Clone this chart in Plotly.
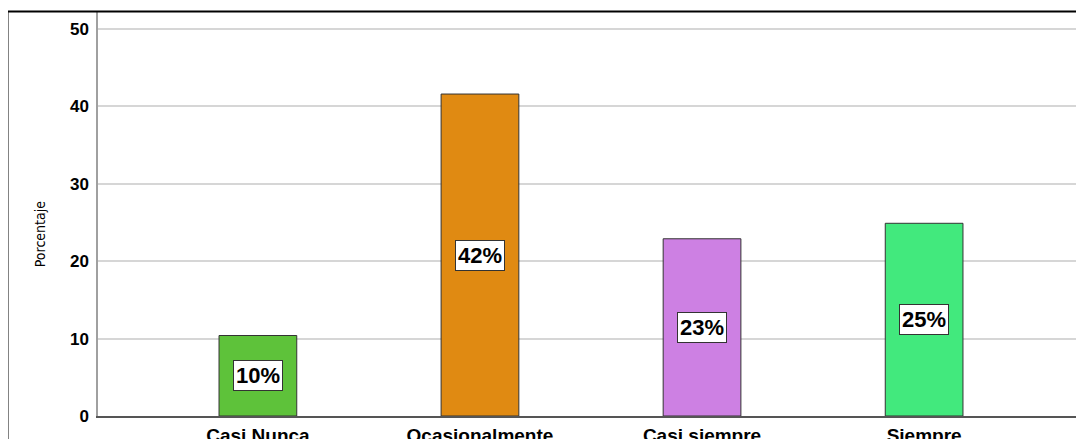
import plotly.graph_objects as go

categories = ["Casi Nunca", "Ocasionalmente", "Casi siempre", "Siempre"]
values = [10.4, 41.6, 22.9, 24.9]
labels = ["10%", "42%", "23%", "25%"]
colors = ["#5ec23a", "#e08a12", "#cd80e3", "#42e97d"]

fig = go.Figure()
fig.add_trace(go.Bar(
    x=categories, y=values, width=0.35,
    marker=dict(color=colors, line=dict(color="#333333", width=1)),
    hoverinfo="skip", showlegend=False,
))

for c, v, t in zip(categories, values, labels):
    fig.add_annotation(
        x=c, y=v / 2, text=t, showarrow=False,
        font=dict(family="Liberation Sans", size=22, color="black", weight="bold"),
        bgcolor="white", bordercolor="#333333", borderwidth=1, borderpad=2,
    )

fig.add_annotation(
    x=-0.0588, y=0.45, xref="paper", yref="paper", text="Porcentaje",
    textangle=-90, showarrow=False, xanchor="center", yanchor="middle",
    font=dict(family="Liberation Sans Narrow, DejaVu Sans Condensed, Liberation Sans",
              size=14, color="black"),
)

fig.add_shape(type="rect", xref="paper", yref="paper",
              x0=-0.0918, x1=1.05, y0=-0.3, y1=1.001,
              line=dict(color="black", width=2), layer="above")

fig.update_layout(
    width=1076, height=431,
    margin=dict(l=90, r=0, t=4, b=23, autoexpand=False),
    paper_bgcolor="white", plot_bgcolor="white",
    xaxis=dict(
        range=[-0.72, 3.72], showgrid=False, showline=True, automargin=False,
        linecolor="#555555", linewidth=1.5, ticks="", ticklabelstandoff=1,
        tickfont=dict(family="Liberation Sans", size=19, color="black", weight="bold"),
    ),
    yaxis=dict(
        range=[0, 52.2], tickvals=[0, 10, 20, 30, 40, 50], automargin=False,
        showgrid=True, gridcolor="#d6d6d6", gridwidth=1.5,
        showline=True, linecolor="#a0a0a0", linewidth=1.5,
        zeroline=False, ticks="", ticklabelstandoff=4,
        tickfont=dict(family="Liberation Sans", size=17, color="black", weight="bold"),
    ),
)

fig.write_html("out.html")
